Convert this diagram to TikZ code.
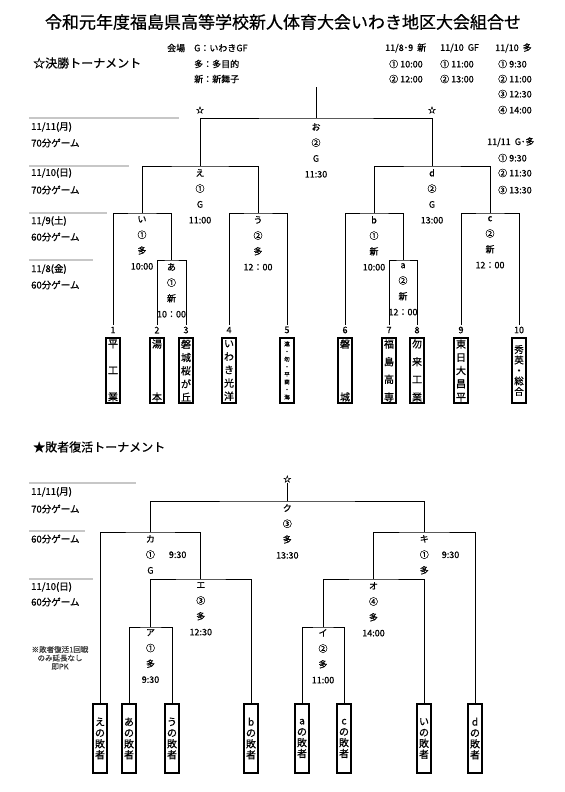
\documentclass[tikz,border=0pt]{standalone}
\usepackage{fontspec}
\setmainfont{Noto Sans CJK JP}[FakeBold=0.7]
\usetikzlibrary{positioning}
\newcommand{\fsz}[2]{\fontsize{#1bp}{#2bp}\selectfont}

\begin{document}
\begin{tikzpicture}[x=1bp,y=1bp,
  bar/.style={black,line width=0.9bp},
  dayrule/.style={draw=black!22,line width=2.6bp},
  daytext/.style={anchor=west,font=\fsz{9.5}{11}},
  info/.style={anchor=west,font=\fsz{9}{11}},
  match/.style={anchor=north,align=center,font=\fsz{9}{15.7}},
  seed/.style={inner sep=1.5bp,font=\fsz{9}{11}},
  star/.style={font=\fsz{8}{10}},
  teambox/.style={draw,line width=1.1bp,minimum width=14bp,minimum height=65bp,align=center},
  losebox/.style={draw,line width=1.1bp,minimum width=14bp,minimum height=69bp,align=center,font=\fsz{10}{11}}]
\tikzstyle{every node}+=[inner sep=0pt]
\useasboundingbox (0,0) rectangle (565,-792);
\fill [white] (0,0) rectangle (565,-792);

\node (title) at (283,-22) {\fsz{17}{20}令和元年度福島県高等学校新人体育大会いわき地区大会組合せ};
\node [anchor=west] (head1) at (33,-63) {\fsz{12}{14}☆決勝トーナメント};
\node [anchor=west] (head2) at (33,-447) {\fsz{12}{14}★敗者復活トーナメント};

\node [info] (kaijo) at (167,-48) {会場};
\node [info] (venG) at (194,-48) {G：いわきGF};
\node [info] (venT) at (194,-64) {多：多目的};
\node [info] (venS) at (194,-79) {新：新舞子};

\node [info] (colS) at (385,-48) {11/8･9\ \ 新};
\node [info] (colS1) at (389,-64) {① 10:00};
\node [info] (colS2) at (389,-79) {② 12:00};
\node [info] (colG) at (440,-48) {11/10\ \ GF};
\node [info] (colG1) at (440,-64) {① 11:00};
\node [info] (colG2) at (440,-79) {② 13:00};
\node [info] (colT) at (495,-48) {11/10\ \ 多};
\node [info] (colT1) at (498,-64) {① 9:30};
\node [info] (colT2) at (498,-79) {② 11:00};
\node [info] (colT3) at (498,-94) {③ 12:30};
\node [info] (colT4) at (498,-110) {④ 14:00};
\node [info] (colF) at (487,-142) {11/11\ \ G･多};
\node [info] (colF1) at (498,-158) {① 9:30};
\node [info] (colF2) at (498,-173) {② 11:30};
\node [info] (colF3) at (498,-190) {③ 13:30};

\draw [dayrule] (29,-118) -- (179,-118);
\draw [dayrule] (29,-166) -- (129,-166);
\draw [dayrule] (29,-213) -- (107,-213);
\draw [dayrule] (29,-260) -- (93,-260);
\node [daytext] (day1) at (31,-127) {11/11(月)};
\node [daytext] (day1g) at (31,-143) {70分ゲーム};
\node [daytext] (day2) at (31,-173) {11/10(日)};
\node [daytext] (day2g) at (31,-190) {70分ゲーム};
\node [daytext] (day3) at (31,-221) {11/9(土)};
\node [daytext] (day3g) at (31,-237) {60分ゲーム};
\node [daytext] (day4) at (31,-269) {11/8(金)};
\node [daytext] (day4g) at (31,-285) {60分ゲーム};

\coordinate (otop) at (316,-87);
\coordinate (mo) at (316,-118);
\coordinate (me) at (200,-166);
\coordinate (md) at (432,-166);
\coordinate (mi) at (142,-213);
\coordinate (mu) at (258,-213);
\coordinate (mb) at (374,-213);
\coordinate (mc) at (490,-213);
\coordinate (ma) at (171.5,-260);
\coordinate (maa) at (403,-260);

\node [star] (st1) at (200,-110) {☆};
\node [star] (st2) at (432,-110) {☆};

\node [seed] (n1) at (113,-330) {1};
\node [seed] (n2) at (157,-330) {2};
\node [seed] (n3) at (186,-330) {3};
\node [seed] (n4) at (229,-330) {4};
\node [seed] (n5) at (287,-330) {5};
\node [seed] (n6) at (345,-330) {6};
\node [seed] (n7) at (389,-330) {7};
\node [seed] (n8) at (417,-330) {8};
\node [seed] (n9) at (461,-330) {9};
\node [seed] (n10) at (519,-330) {10};

\node [teambox,font=\fsz{10}{26.5}] (t1) at (113,-370.5) {平\\工\\業};
\node [teambox,font=\fsz{10}{53}] (t2) at (157,-370.5) {湯\\本};
\node [teambox,font=\fsz{10}{13.2}] (t3) at (186,-370.5) {磐\\城\\桜\\が\\丘};
\node [teambox,font=\fsz{10}{13.2}] (t4) at (229,-370.5) {い\\わ\\き\\光\\洋};
\node [teambox,font=\fsz{5.5}{7.6}] (t5) at (287,-370.5) {遠\\・\\勿\\・\\平\\商\\・\\海};
\node [teambox,font=\fsz{10}{53}] (t6) at (345,-370.5) {磐\\城};
\node [teambox,font=\fsz{10}{17.7}] (t7) at (389,-370.5) {福\\島\\高\\専};
\node [teambox,font=\fsz{10}{17.7}] (t8) at (417,-370.5) {勿\\来\\工\\業};
\node [teambox,font=\fsz{10}{13.2}] (t9) at (461,-370.5) {東\\日\\大\\昌\\平};
\node [teambox,font=\fsz{9.5}{10.5}] (t10) at (519,-370.5) {秀\\英\\・\\総\\合};

\draw [bar] (otop) -- (mo);
\draw [bar] (me) |- (mo) -| (md);
\draw [bar] (mi) |- (me) -| (mu);
\draw [bar] (mb) |- (md) -| (mc);
\draw [bar] (n1) |- (mi) -| (ma);
\draw [bar] (n2) |- (ma) -| (n3);
\draw [bar] (n4) |- (mu) -| (n5);
\draw [bar] (n6) |- (mb) -| (maa);
\draw [bar] (n7) |- (maa) -| (n8);
\draw [bar] (n9) |- (mc) -| (n10);

\node [match,below=5bp of mo] (lo) {お\\②\\G\\11:30};
\node [match,below=3bp of me] (le) {え\\①\\G\\11:00};
\node [match,below=3bp of md] (ld) {d\\②\\G\\13:00};
\node [match,below=3bp of mi] (li) {い\\①\\多\\10:00};
\node [match,below=3bp of mu] (lu) {う\\②\\多\\12：00};
\node [match,below=3bp of mb] (lb) {b\\①\\新\\10:00};
\node [match,below=3bp of mc] (lc) {c\\②\\新\\12：00};
\node [match,below=3bp of ma] (la) {あ\\①\\新\\10：00};
\node [match,below=3bp of maa] (laa) {a\\②\\新\\12：00};

\draw [dayrule] (29,-483) -- (136,-483);
\draw [dayrule] (29,-531) -- (85,-531);
\draw [dayrule] (29,-579) -- (93,-579);
\node [daytext] (rday1) at (31,-492) {11/11(月)};
\node [daytext] (rday1g) at (31,-509) {70分ゲーム};
\node [daytext] (rday2g) at (31,-539) {60分ゲーム};
\node [daytext] (rday3) at (31,-587) {11/10(日)};
\node [daytext] (rday3g) at (31,-602) {60分ゲーム};
\node [align=center,text=black!75,font=\fsz{7.5}{8.5}] (note) at (60,-658) {※敗者復活1回戦\\のみ延長なし\\即PK};

\node [star] (st3) at (287.3,-479) {☆};
\coordinate (rku) at (287.3,-501);
\coordinate (rka) at (150.4,-532);
\coordinate (rki) at (424.3,-532);
\coordinate (rE) at (200.8,-579);
\coordinate (rO) at (373.5,-579);
\coordinate (rA) at (150.5,-627);
\coordinate (rI) at (323,-627);

\node [losebox] (L1) at (100,-738.5) {え\\の\\敗\\者};
\node [losebox] (L2) at (129,-738.5) {あ\\の\\敗\\者};
\node [losebox] (L3) at (172,-738.5) {う\\の\\敗\\者};
\node [losebox] (L4) at (251,-738.5) {b\\の\\敗\\者};
\node [losebox] (L5) at (302,-738.5) {a\\の\\敗\\者};
\node [losebox] (L6) at (344,-738.5) {c\\の\\敗\\者};
\node [losebox] (L7) at (424,-738.5) {い\\の\\敗\\者};
\node [losebox] (L8) at (475,-738.5) {d\\の\\敗\\者};

\draw [bar] (st3) -- (rku);
\draw [bar] (rka) |- (rku) -| (rki);
\draw [bar] (L1) |- (rka) -| (rE);
\draw [bar] (rA) |- (rE) -| (L4);
\draw [bar] (L2) |- (rA) -| (L3);
\draw [bar] (rO) |- (rki) -| (L8);
\draw [bar] (rI) |- (rO) -| (L7);
\draw [bar] (L5) |- (rI) -| (L6);

\node [match,below=3bp of rku] (lku) {ク\\③\\多\\13:30};
\node [match,below=3bp of rka] (lka) {カ\\①\rlap{\hspace{14bp}9:30}\\G};
\node [match,below=3bp of rki] (lki) {キ\\①\rlap{\hspace{13bp}9:30}\\多};
\node [match,below=3bp of rE] (lE) {エ\\③\\多\\12:30};
\node [match,below=3bp of rO] (lO) {オ\\④\\多\\14:00};
\node [match,below=2bp of rA] (lA) {ア\\①\\多\\9:30};
\node [match,below=2bp of rI] (lI) {イ\\②\\多\\11:00};
\end{tikzpicture}
\end{document}
